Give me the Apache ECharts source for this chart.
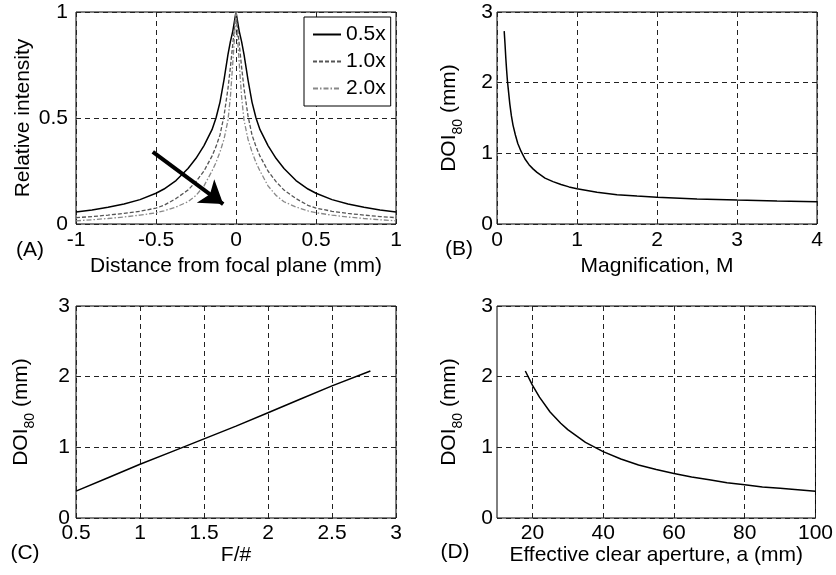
<!DOCTYPE html>
<html><head><meta charset="utf-8">
<script src="https://cdn.jsdelivr.net/npm/echarts@6/dist/echarts.min.js"></script>
<style>html,body{margin:0;padding:0;background:#fff}#c{width:836px;height:575px}</style>
</head><body><div id="c"></div>
<script>
// Panel A: relative intensity vs distance from focal plane
const distA = [-1,-0.9,-0.8,-0.7,-0.6,-0.5,-0.45,-0.375,-0.3,-0.25,-0.2,-0.15,-0.125,-0.1,-0.075,-0.05,-0.035,-0.02,-0.01,0,0.01,0.02,0.035,0.05,0.075,0.1,0.125,0.15,0.2,0.25,0.3,0.375,0.45,0.5,0.6,0.7,0.8,0.9,1];
const int05 = [0.057,0.066,0.079,0.094,0.115,0.145,0.165,0.205,0.262,0.31,0.37,0.445,0.50,0.575,0.68,0.80,0.86,0.91,0.955,1,0.955,0.91,0.86,0.80,0.68,0.575,0.50,0.445,0.37,0.31,0.262,0.205,0.165,0.145,0.115,0.094,0.079,0.066,0.057];
const int10 = [0.03,0.035,0.042,0.05,0.06,0.075,0.088,0.12,0.16,0.20,0.25,0.32,0.365,0.42,0.51,0.64,0.74,0.85,0.92,1,0.92,0.85,0.74,0.64,0.51,0.42,0.365,0.32,0.25,0.20,0.16,0.12,0.088,0.075,0.06,0.05,0.042,0.035,0.03];
const int20 = [0.015,0.02,0.026,0.033,0.042,0.053,0.062,0.08,0.105,0.135,0.18,0.25,0.29,0.34,0.40,0.49,0.60,0.76,0.87,1,0.87,0.76,0.60,0.49,0.40,0.34,0.29,0.25,0.18,0.135,0.105,0.08,0.062,0.053,0.042,0.033,0.026,0.02,0.015];
const legendNames = ['0.5x','1.0x','2.0x'];
const arrowA = [[-0.52,0.34],[-0.08,0.094]];
// Panel B: DOI80 vs magnification
const magB = [0.09,0.1,0.11,0.12,0.13,0.14,0.16,0.18,0.2,0.23,0.26,0.3,0.35,0.4,0.45,0.5,0.6,0.7,0.8,0.9,1,1.25,1.5,1.75,2,2.5,3,3.5,4];
const doiB = [2.73,2.55,2.35,2.18,2.03,1.92,1.70,1.53,1.40,1.26,1.14,1.03,0.92,0.84,0.78,0.73,0.65,0.60,0.56,0.525,0.5,0.45,0.415,0.395,0.378,0.355,0.34,0.326,0.316];
// Panel C: DOI80 vs F/#
const fnumC = [0.5,0.75,1,1.25,1.5,1.75,2,2.25,2.5,2.8];
const doiC = [0.38,0.57,0.76,0.94,1.12,1.30,1.49,1.68,1.87,2.08];
// Panel D: DOI80 vs effective clear aperture
const apD = [18,20,22,25,28,30,35,40,45,50,55,60,65,70,75,80,85,90,95,100];
const doiD = [2.08,1.88,1.71,1.5,1.34,1.25,1.07,0.94,0.835,0.75,0.685,0.63,0.58,0.54,0.50,0.47,0.44,0.42,0.40,0.38];
const panelLabels = ['(A)','(B)','(C)','(D)'];

const FONT = '"Liberation Sans", Arial, Helvetica, sans-serif';
const FS = 21;
const pair = (xs, ys) => xs.map((x, i) => [x, ys[i]]);
const dash = {show: true, lineStyle: {color: '#222', type: [5, 4], width: 1}};

function xAx(gi, min, max, interval, name, nameGap, extra) {
  return Object.assign({
    type: 'value', gridIndex: gi, min, max, interval,
    name, nameLocation: 'middle', nameGap,
    nameTextStyle: {fontFamily: FONT, fontSize: FS, color: '#000'},
    axisLine: {show: false}, axisTick: {show: false},
    axisLabel: {fontFamily: FONT, fontSize: FS, color: '#000', margin: 6},
    splitLine: dash
  }, extra || {});
}
function yAx(gi, max, interval, name, nameGap, labelMargin, rich) {
  const o = {
    type: 'value', gridIndex: gi, min: 0, max, interval,
    name, nameLocation: 'middle', nameGap, nameRotate: 90,
    nameTextStyle: {fontFamily: FONT, fontSize: FS, color: '#000'},
    axisLine: {show: false}, axisTick: {show: false},
    axisLabel: {fontFamily: FONT, fontSize: FS, color: '#000', margin: labelMargin},
    splitLine: dash
  };
  if (rich) o.nameTextStyle.rich = rich;
  return o;
}
const doiRich = {
  a: {fontFamily: FONT, fontSize: FS, color: '#000', lineHeight: 26, verticalAlign: 'top'},
  s: {fontFamily: FONT, fontSize: 14, color: '#000', lineHeight: 14, verticalAlign: 'bottom'}
};
const doiName = '{a|DOI}{s|80}{a| (mm)}';
const gridBase = {show: true, borderColor: '#000', borderWidth: 1, backgroundColor: '#fff', containLabel: false};

const option = {
  animation: false,
  backgroundColor: '#fff',
  textStyle: {fontFamily: FONT},
  grid: [
    Object.assign({left: 76, top: 12, width: 320, height: 212}, gridBase),
    Object.assign({left: 497, top: 12, width: 320, height: 212}, gridBase),
    Object.assign({left: 76, top: 306, width: 320, height: 212}, gridBase),
    Object.assign({left: 497, top: 306, width: 320, height: 212}, gridBase)
  ],
  xAxis: [
    xAx(0, -1, 1, 0.5, 'Distance from focal plane (mm)', 32),
    xAx(1, 0, 4, 1, 'Magnification, M', 32),
    xAx(2, 0.5, 3, 0.5, 'F/#', 23, {axisLabel: {fontFamily: FONT, fontSize: FS, color: '#000', margin: 5}}),
    xAx(3, 10, 100, 10, 'Effective clear aperture, a (mm)', 23, {
      axisLabel: {fontFamily: FONT, fontSize: FS, color: '#000', margin: 5,
        formatter: v => (v % 20 === 0 ? String(v) : '')},
      splitLine: {show: true, lineStyle: {color: ['rgba(0,0,0,0)', '#222'], type: [5, 4], width: 1}}
    })
  ],
  yAxis: [
    yAx(0, 1, 0.5, 'Relative intensity', 42, 8),
    yAx(1, 3, 1, doiName, 32, 4, doiRich),
    yAx(2, 3, 1, doiName, 39, 6, doiRich),
    yAx(3, 3, 1, doiName, 32, 4, doiRich)
  ],
  legend: {
    data: legendNames,
    orient: 'vertical',
    left: 304, top: 17,
    padding: [7, 5, 7, 8],
    itemGap: 6,
    itemWidth: 28, itemHeight: 14,
    itemStyle: {opacity: 0},
    backgroundColor: '#fff',
    borderColor: '#000', borderWidth: 1, borderRadius: 0,
    textStyle: {fontFamily: FONT, fontSize: FS, color: '#000'}
  },
  series: [
    {name: legendNames[0], type: 'line', xAxisIndex: 0, yAxisIndex: 0, data: pair(distA, int05),
      symbol: 'none', lineStyle: {color: '#000', width: 1.5, type: 'solid'}, itemStyle: {color: '#000'}},
    {name: legendNames[1], type: 'line', xAxisIndex: 0, yAxisIndex: 0, data: pair(distA, int10),
      symbol: 'none', lineStyle: {color: '#555', width: 1.3, type: [4, 2]}, itemStyle: {color: '#555'}},
    {name: legendNames[2], type: 'line', xAxisIndex: 0, yAxisIndex: 0, data: pair(distA, int20),
      symbol: 'none', lineStyle: {color: '#888', width: 1.3, type: [5, 2, 1.5, 2]}, itemStyle: {color: '#888'}},
    {type: 'lines', coordinateSystem: 'cartesian2d', xAxisIndex: 0, yAxisIndex: 0,
      symbol: ['none', 'arrow'], symbolSize: 22,
      lineStyle: {color: '#000', width: 4, opacity: 1, curveness: 0},
      data: [{coords: arrowA}], z: 5},
    {type: 'line', xAxisIndex: 1, yAxisIndex: 1, data: pair(magB, doiB), symbol: 'none',
      lineStyle: {color: '#000', width: 1.5}},
    {type: 'line', xAxisIndex: 2, yAxisIndex: 2, data: pair(fnumC, doiC), symbol: 'none',
      lineStyle: {color: '#000', width: 1.5}},
    {type: 'line', xAxisIndex: 3, yAxisIndex: 3, data: pair(apD, doiD), symbol: 'none',
      lineStyle: {color: '#000', width: 1.5}}
  ],
  graphic: [
    {type: 'text', x: 30, y: 250, style: {text: panelLabels[0], font: FS + 'px ' + FONT, fill: '#000', align: 'center', verticalAlign: 'middle'}},
    {type: 'text', x: 459, y: 249, style: {text: panelLabels[1], font: FS + 'px ' + FONT, fill: '#000', align: 'center', verticalAlign: 'middle'}},
    {type: 'text', x: 25, y: 553, style: {text: panelLabels[2], font: FS + 'px ' + FONT, fill: '#000', align: 'center', verticalAlign: 'middle'}},
    {type: 'text', x: 455, y: 552, style: {text: panelLabels[3], font: FS + 'px ' + FONT, fill: '#000', align: 'center', verticalAlign: 'middle'}}
  ]
};
const chart = echarts.init(document.getElementById('c'), null, {renderer: 'canvas'});
chart.setOption(option);
</script>
</body></html>
